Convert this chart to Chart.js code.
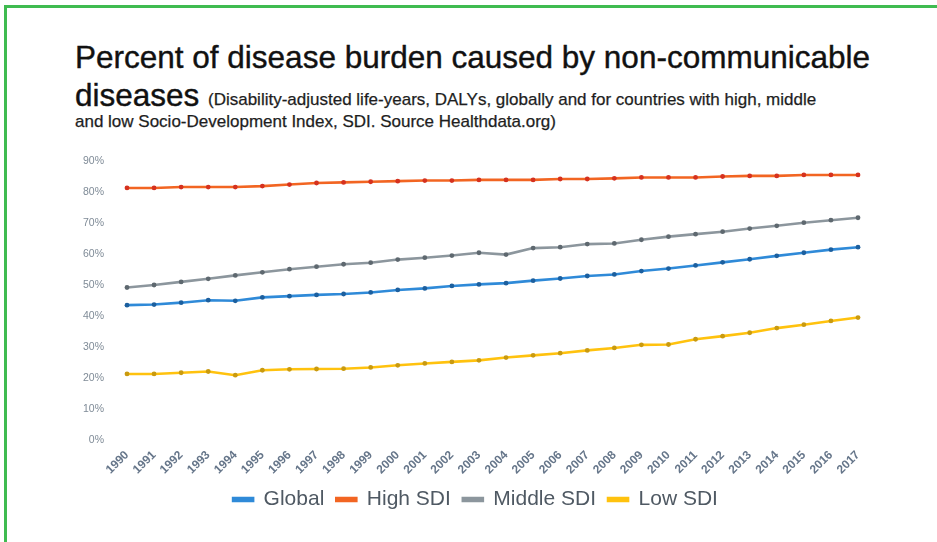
<!DOCTYPE html>
<html>
<head>
<meta charset="utf-8">
<script src="https://cdn.jsdelivr.net/npm/chart.js@4/dist/chart.umd.min.js"></script>
<style>
  html, body { margin: 0; padding: 0; background: #fff; }
  body { width: 937px; height: 542px; position: relative; overflow: hidden; font-family: "Liberation Sans", Arial, sans-serif; }
  .bt { position: absolute; left: 4px; top: 5px; width: 933px; height: 3px; background: #3fbb50; }
  .bl { position: absolute; left: 4px; top: 5px; width: 3px; height: 537px; background: #3fbb50; }
  .t { position: absolute; white-space: nowrap; line-height: normal; }
  .big { font-size: 31.5px; color: #111; -webkit-text-stroke: 0.4px #111; }
  .small { font-size: 17px; color: #1e1e1e; -webkit-text-stroke: 0.25px #1e1e1e; }
  #wrap { position: absolute; left: 0; top: 140px; width: 937px; height: 402px; }
</style>
</head>
<body>
<div class="bt"></div>
<div class="bl"></div>
<div class="t big" style="left:75px; top:38.5px;">Percent of disease burden caused by non-communicable</div>
<div class="t big" style="left:75px; top:76.5px;">diseases</div>
<div class="t small" style="left:208px; top:89.6px;">(Disability-adjusted life-years, DALYs, globally and for countries with high, middle</div>
<div class="t small" style="left:75px; top:111.6px;">and low Socio-Development Index, SDI. Source Healthdata.org)</div>
<div id="wrap"><canvas id="c" width="937" height="402"></canvas></div>
<script>
const years = ["1990","1991","1992","1993","1994","1995","1996","1997","1998","1999","2000","2001","2002","2003","2004","2005","2006","2007","2008","2009","2010","2011","2012","2013","2014","2015","2016","2017"];
const yTickStep = 10;
const yMax = 90;
const globalVals = [43.5,43.7,44.3,45.1,44.9,46.0,46.4,46.8,47.1,47.6,48.4,48.9,49.7,50.2,50.6,51.4,52.1,52.9,53.4,54.5,55.3,56.3,57.3,58.3,59.4,60.4,61.4,62.2];
const highVals = [81.3,81.3,81.6,81.6,81.6,81.9,82.4,82.9,83.1,83.3,83.5,83.7,83.7,83.9,83.9,83.9,84.2,84.2,84.4,84.7,84.7,84.7,85.0,85.2,85.2,85.5,85.5,85.5];
const middleVals = [49.2,50.0,51.0,52.0,53.1,54.1,55.1,55.9,56.7,57.2,58.2,58.8,59.5,60.4,59.8,61.9,62.2,63.2,63.4,64.6,65.6,66.4,67.2,68.2,69.1,70.1,70.9,71.7];
const lowVals = [21.3,21.3,21.7,22.1,20.9,22.5,22.8,22.9,23.0,23.4,24.1,24.7,25.2,25.7,26.6,27.3,28.0,28.9,29.7,30.7,30.8,32.5,33.5,34.6,36.1,37.2,38.4,39.5];
const seriesNames = ["Global","High SDI","Middle SDI","Low SDI"];

function ds(label, data, line, point) {
  return { label, data, borderColor: line, backgroundColor: line, borderWidth: 2.6,
    pointRadius: 2.4, pointBackgroundColor: point, pointBorderColor: point, pointBorderWidth: 0,
    tension: 0, fill: false };
}

const legendShift = {
  id: 'legendShift',
  afterLayout(chart) {
    if (chart.legend) { chart.legend.left += 6.5; chart.legend.right += 6.5; }
  }
};

new Chart(document.getElementById('c'), {
  type: 'line',
  data: {
    labels: years,
    datasets: [
      ds(seriesNames[0], globalVals, '#2f8ad8', '#1c5f9e'),
      ds(seriesNames[1], highVals, '#f26522', '#d5311f'),
      ds(seriesNames[2], middleVals, '#8c969d', '#5e686f'),
      ds(seriesNames[3], lowVals, '#ffc20e', '#c99a10')
    ]
  },
  plugins: [legendShift],
  options: {
    responsive: false,
    animation: false,
    layout: { padding: { left: 80, right: 79, top: 21, bottom: 22 } },
    plugins: {
      tooltip: { enabled: false },
      legend: {
        position: 'bottom',
        labels: {
          boxWidth: 20, boxHeight: 3, padding: 12,
          color: '#4f5963',
          font: { family: 'Liberation Sans', size: 21 }
        }
      }
    },
    scales: {
      x: {
        offset: false,
        grid: { display: false, drawTicks: false },
        border: { display: false },
        ticks: { autoSkip: false, maxRotation: 45, minRotation: 45, padding: 8,
          color: '#66768a', font: { family: 'Liberation Sans', size: 12, weight: 'bold' } },
        afterFit: (s) => { s.height = 37; }
      },
      y: {
        min: 0, max: yMax,
        grid: { display: false, drawTicks: false },
        border: { display: false },
        ticks: { stepSize: yTickStep, padding: 23, color: '#7f8b97', font: { family: 'Liberation Sans', size: 10.5 },
          callback: (v) => v + '%' },
        afterFit: (s) => { s.width = 47; s.paddingTop = 6; s.paddingBottom = 6; }
      }
    }
  }
});
</script>
</body>
</html>
